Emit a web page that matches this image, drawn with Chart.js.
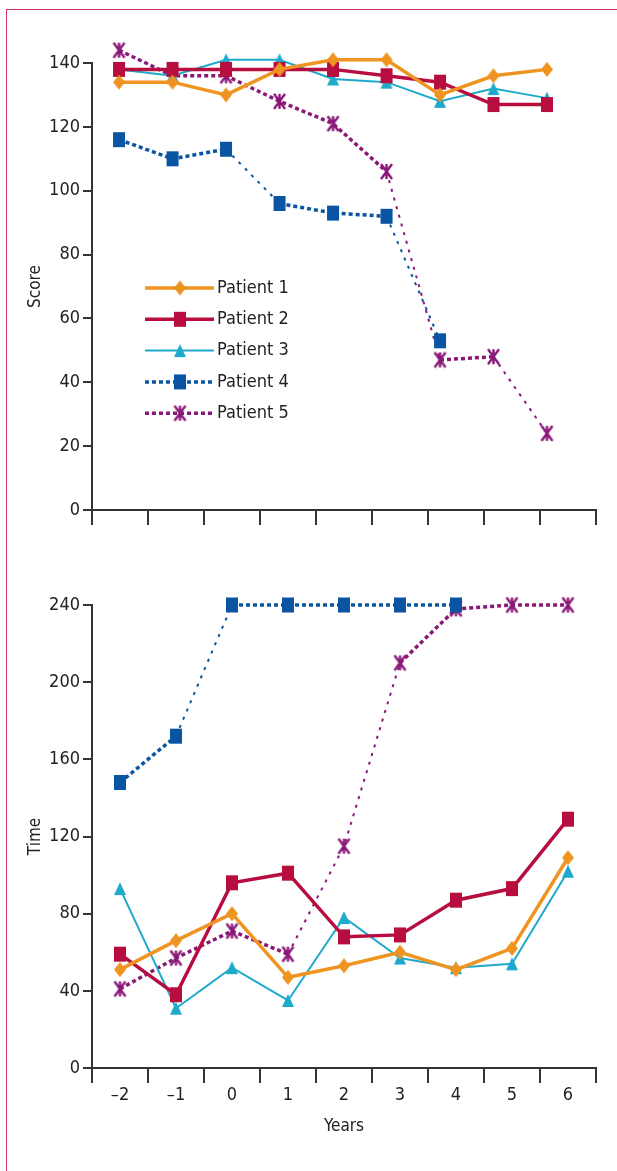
<!DOCTYPE html>
<html lang="en">
<head>
<meta charset="UTF-8">
<title>Score and time by patient</title>
<script src="https://cdn.jsdelivr.net/npm/chart.js"></script>
<style>
    body {
        margin: 0;
        width: 617px;
        height: 1171px;
        background: #ffffff;
        position: relative;
        overflow: hidden;
    }
    .frame {
        position: absolute;
        left: 6px;
        top: 9px;
        width: 700px;
        height: 1300px;
        border: 1.5px solid #d03a62;
    }
    .panel {
        position: absolute;
        left: 0;
        width: 617px;
    }
    #scorePanel { top: 0; height: 540px; }
    #timePanel { top: 540px; height: 631px; }
</style>
</head>
<body>
<div class="frame"></div>
<div class="panel" id="scorePanel"><canvas id="scoreChart"></canvas></div>
<div class="panel" id="timePanel"><canvas id="timeChart"></canvas></div>

<script>
    const years = [-2, -1, 0, 1, 2, 3, 4, 5, 6];
    const patients = ['Patient 1', 'Patient 2', 'Patient 3', 'Patient 4', 'Patient 5'];

    const scoreP1 = [134, 134, 130, 138, 141, 141, 130, 136, 138];
    const scoreP2 = [138, 138, 138, 138, 138, 136, 134, 127, 127];
    const scoreP3 = [138, 136, 141, 141, 135, 134, 128, 132, 129];
    const scoreP4 = [116, 110, 113, 96, 93, 92, 53, null, null];
    const scoreP5 = [144, 136, 136, 128, 121, 106, 47, 48, 24];

    const timeP1 = [51, 66, 80, 47, 53, 60, 51, 62, 109];
    const timeP2 = [59, 38, 96, 101, 68, 69, 87, 93, 129];
    const timeP3 = [93, 31, 52, 35, 78, 57, 52, 54, 102];
    const timeP4 = [148, 172, 240, 240, 240, 240, 240, null, null];
    const timeP5 = [41, 57, 71, 59, 115, 210, 238, 240, 240];

    const scoreTicks = [0, 20, 40, 60, 80, 100, 120, 140];
    const timeTicks = [0, 40, 80, 120, 160, 200, 240];

    const axisColor = '#333333';
    const textColor = '#222222';
    const fontFamily = "'Liberation Sans Narrow', 'DejaVu Sans Condensed', 'Roboto Condensed', sans-serif";
    Chart.defaults.font.family = fontFamily;
    Chart.defaults.color = textColor;

    // markers are a bit taller than wide, like in the printed figure
    function makeMarker(shape, color, w, h) {
        const c = document.createElement('canvas');
        c.width = w + 4;
        c.height = h + 4;
        const g = c.getContext('2d');
        const cx = c.width / 2, cy = c.height / 2;
        g.fillStyle = color;
        g.strokeStyle = color;
        g.beginPath();
        if (shape === 'diamond') {
            g.moveTo(cx, cy - h / 2);
            g.lineTo(cx + w / 2, cy);
            g.lineTo(cx, cy + h / 2);
            g.lineTo(cx - w / 2, cy);
            g.closePath();
            g.fill();
        } else if (shape === 'square') {
            g.fillRect(cx - w / 2, cy - h / 2, w, h);
        } else if (shape === 'triangle') {
            g.moveTo(cx, cy - h / 2);
            g.lineTo(cx + w / 2, cy + h / 2);
            g.lineTo(cx - w / 2, cy + h / 2);
            g.closePath();
            g.fill();
        } else {
            g.lineWidth = 2.4;
            g.moveTo(cx, cy - h / 2); g.lineTo(cx, cy + h / 2);
            g.moveTo(cx - w / 2, cy - h / 2); g.lineTo(cx + w / 2, cy + h / 2);
            g.moveTo(cx + w / 2, cy - h / 2); g.lineTo(cx - w / 2, cy + h / 2);
            g.stroke();
        }
        return c;
    }

    const styles = [
        { color: '#ef9421', width: 3.5, dash: [], marker: makeMarker('diamond', '#ef9421', 12, 15) },
        { color: '#b80d3f', width: 3.5, dash: [], marker: makeMarker('square', '#b80d3f', 12, 15) },
        { color: '#1faacc', width: 2, dash: [], marker: makeMarker('triangle', '#1faacc', 12, 13) },
        { color: '#0a55a3', width: 3.5, dash: [4, 3], marker: makeMarker('square', '#0a55a3', 12, 15) },
        { color: '#8a1878', width: 3.5, dash: [4, 3], marker: makeMarker('star', '#8a1878', 11, 15) }
    ];

    const steep = ctx => Math.abs(ctx.p1.y - ctx.p0.y) > Math.abs(ctx.p1.x - ctx.p0.x);

    function makeDatasets(series) {
        return series.map((values, i) => {
            const st = styles[i];
            const ds = {
                label: patients[i],
                data: values,
                borderColor: st.color,
                backgroundColor: st.color,
                borderWidth: st.width,
                borderDash: st.dash,
                pointStyle: st.marker,
                pointRadius: 14,
                pointHoverRadius: 14,
                tension: 0,
                clip: false
            };
            if (st.dash.length) {
                ds.segment = {
                    borderWidth: ctx => steep(ctx) ? 2 : st.width,
                    borderDash: ctx => steep(ctx) ? [3, 6] : st.dash
                };
            }
            return ds;
        });
    }

    const fmtYear = y => y < 0 ? '\u2013' + (-y) : String(y);

    function yAxis(ticksList, title) {
        return {
            min: ticksList[0],
            max: ticksList[ticksList.length - 1],
            afterBuildTicks: s => { s.ticks = ticksList.map(v => ({ value: v })); },
            afterFit: s => { s.width = 92; },
            ticks: { font: { size: 18 }, color: textColor, padding: 3 },
            grid: { drawOnChartArea: false, tickLength: 9, color: axisColor, lineWidth: 2 },
            border: { display: true, color: axisColor, width: 2 },
            title: { display: true, text: title, font: { size: 17 }, color: textColor, padding: { top: 25 } }
        };
    }

    const legendPlugin = {
        id: 'insideLegend',
        afterDatasetsDraw(chart) {
            const ctx = chart.ctx;
            ctx.save();
            chart.data.datasets.forEach((ds, i) => {
                const st = styles[i];
                const y = 288 + 31.3 * i;
                ctx.beginPath();
                ctx.strokeStyle = st.color;
                ctx.lineWidth = st.width;
                ctx.setLineDash(st.dash);
                ctx.moveTo(145, y);
                ctx.lineTo(214, y);
                ctx.stroke();
                ctx.setLineDash([]);
                ctx.drawImage(st.marker, 180 - st.marker.width / 2, y - st.marker.height / 2);
                ctx.fillStyle = textColor;
                ctx.font = '18px ' + fontFamily;
                ctx.textBaseline = 'middle';
                ctx.fillText(ds.label, 217, y);
            });
            ctx.restore();
        }
    };

    new Chart(document.getElementById('scoreChart'), {
        type: 'line',
        data: {
            labels: years,
            datasets: makeDatasets([scoreP1, scoreP2, scoreP3, scoreP4, scoreP5])
        },
        options: {
            responsive: true,
            maintainAspectRatio: false,
            animation: false,
            layout: { padding: { top: 63, right: 21, left: 0, bottom: 0 } },
            plugins: { legend: { display: false }, tooltip: { enabled: false } },
            scales: {
                x: {
                    type: 'linear',
                    bounds: 'data',
                    min: -2.505,
                    max: 6.916,
                    // nine equal intervals along the axis
                    afterBuildTicks: s => {
                        s.ticks = Array.from({ length: 10 }, (_, k) => ({ value: s.min + k * (s.max - s.min) / 9 }));
                    },
                    afterFit: s => { s.height = 30; },
                    ticks: { display: false },
                    grid: { drawOnChartArea: false, tickLength: 15, color: axisColor, lineWidth: 2 },
                    border: { display: true, color: axisColor, width: 2 }
                },
                y: yAxis(scoreTicks, 'Score')
            }
        },
        plugins: [legendPlugin]
    });

    new Chart(document.getElementById('timeChart'), {
        type: 'line',
        data: {
            labels: years,
            datasets: makeDatasets([timeP1, timeP2, timeP3, timeP4, timeP5])
        },
        options: {
            responsive: true,
            maintainAspectRatio: false,
            animation: false,
            layout: { padding: { top: 65, right: 21, left: 0, bottom: 0 } },
            plugins: { legend: { display: false }, tooltip: { enabled: false } },
            scales: {
                x: {
                    type: 'category',
                    offset: true,
                    afterFit: s => { s.height = 103; },
                    ticks: {
                        font: { size: 18 },
                        color: textColor,
                        padding: 2,
                        callback: (v, i) => fmtYear(years[i])
                    },
                    grid: { offset: true, drawOnChartArea: false, tickLength: 15, color: axisColor, lineWidth: 2 },
                    border: { display: true, color: axisColor, width: 2 },
                    title: { display: true, text: 'Years', font: { size: 17 }, color: textColor, padding: { bottom: 34 } }
                },
                y: yAxis(timeTicks, 'Time')
            }
        }
    });
</script>
</body>
</html>
